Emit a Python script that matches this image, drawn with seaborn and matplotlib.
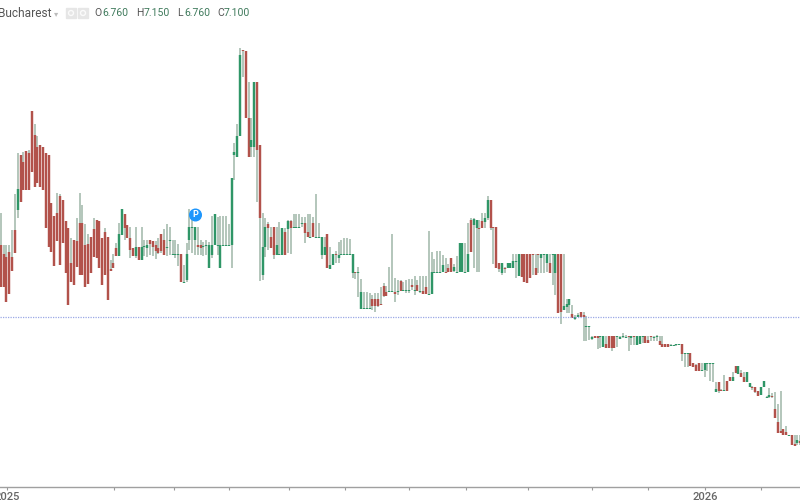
import numpy as np
import pandas as pd
import seaborn as sns
import matplotlib.pyplot as plt
from matplotlib.patches import Circle, Rectangle

# the price scale is not visible in the picture, so the levels are read as
# rows from the top of the chart (smaller = higher price)
highs = [213,245,245,245,230,194,153,155,152,151,
         150,111,124,136,145,147,153,155,203,216,
         193,194,200,221,228,238,240,218,193,205,
         224,234,237,218,220,221,238,228,237,260,
         254,243,223,209,214,225,227,248,227,247,
         227,240,240,240,241,241,238,234,229,224,
         227,240,240,244,254,265,243,209,216,227,
         227,240,242,240,242,216,214,217,216,216,
         216,224,178,143,124,48,50,51,82,118,
         82,82,145,213,218,222,227,227,227,222,
         228,228,220,220,214,214,214,217,217,214,
         214,217,194,223,237,237,234,247,254,251,
         242,240,238,238,239,254,272,267,279,292,
         292,293,295,293,293,287,283,286,267,234,
         278,280,280,282,280,279,279,276,280,276,
         276,276,231,252,259,251,251,255,258,264,
         258,264,256,243,243,243,223,218,218,220,
         220,213,213,196,200,227,227,263,263,267,
         263,263,254,254,254,254,254,254,254,254,
         254,254,254,254,254,254,254,254,254,254,
         254,299,299,305,315,313,312,312,316,326,
         336,336,336,336,336,336,336,336,336,336,
         336,333,335,336,336,336,336,336,336,336,
         336,336,336,335,336,336,344,344,344,345,
         344,344,344,353,353,353,363,364,363,363,
         363,363,363,363,382,382,389,375,381,377,
         372,366,366,370,372,372,383,386,387,391,
         387,381,396,388,393,392,404,391,429,426,
         435,435,435,435,435]
lows = [287,287,302,294,271,253,218,202,190,190,
        190,172,187,183,187,190,228,247,252,266,
        241,265,243,273,305,282,285,267,275,275,
        287,284,273,257,258,268,285,275,300,271,
        268,256,256,235,240,238,258,256,258,260,
        260,256,257,255,256,259,254,253,255,256,
        255,255,258,266,282,283,282,250,253,255,
        255,255,256,255,268,258,245,255,268,246,
        246,246,268,180,157,136,77,118,157,157,
        157,202,281,280,257,250,248,259,255,254,
        255,255,253,254,227,227,228,227,243,237,
        237,237,237,237,259,255,268,269,265,263,
        263,254,254,254,254,278,279,297,309,309,
        309,309,310,312,307,304,297,296,291,291,
        302,295,291,290,293,293,290,295,290,293,
        294,294,294,294,272,272,272,272,272,272,
        272,272,272,272,272,272,272,252,268,272,
        272,228,228,220,230,264,268,272,275,273,
        268,268,268,278,276,277,282,283,278,275,
        275,273,273,273,272,273,285,295,313,324,
        310,313,313,318,320,317,317,341,341,340,
        340,337,349,348,347,348,348,351,348,347,
        339,338,338,351,345,345,345,344,343,343,
        343,341,341,341,345,347,347,347,346,346,
        346,345,361,367,367,366,367,371,371,371,
        377,371,381,382,392,393,391,391,391,381,
        381,373,374,377,382,382,387,390,393,396,
        395,387,398,398,398,418,433,433,435,435,
        436,445,446,445,445]
body_tops = [245,254,257,252,257,230,189,155,162,151,
             153,111,135,147,145,147,153,155,203,216,
             213,196,200,221,228,263,240,241,223,223,
             245,244,237,229,220,221,238,232,237,269,
             263,248,234,209,214,225,238,248,247,247,
             247,246,245,240,241,245,248,234,240,247,
             240,254,254,254,254,282,254,227,227,227,
             245,245,246,245,245,245,214,245,245,245,
             245,245,178,152,136,55,50,51,118,140,
             82,82,145,247,227,224,237,227,245,254,
             228,232,221,221,227,227,227,223,223,232,
             237,223,237,237,237,247,234,265,254,254,
             255,254,254,254,254,254,272,272,292,308,
             308,308,299,299,299,304,286,292,291,291,
             292,291,281,290,290,290,285,290,285,291,
             291,287,294,272,272,272,272,265,272,268,
             258,267,272,243,243,272,254,220,219,220,
             228,221,218,200,200,227,227,263,263,268,
             263,263,261,261,254,254,254,254,254,254,
             268,254,254,254,254,263,254,254,254,254,
             306,304,299,314,317,315,312,315,326,326,
             337,336,336,336,336,344,336,336,336,336,
             337,336,337,336,336,336,336,336,336,336,
             340,336,337,336,341,344,344,344,345,345,
             344,344,344,353,353,353,363,365,363,370,
             363,363,363,363,389,382,390,390,381,377,
             377,366,366,373,377,372,383,387,387,391,
             387,381,397,395,396,409,422,431,429,432,
             435,435,444,440,441]
body_bots = [287,287,302,294,271,253,210,202,190,190,
             190,172,187,183,187,190,228,247,252,266,
             241,265,243,273,305,282,285,267,275,275,
             287,284,273,257,258,268,285,275,300,271,
             268,256,256,235,228,238,250,256,256,260,
             260,247,248,244,247,251,253,251,255,248,
             241,255,255,255,282,283,280,240,228,240,
             247,248,247,246,268,255,245,246,268,246,
             246,246,245,155,157,136,51,118,157,147,
             147,150,218,275,247,228,248,255,255,255,
             255,255,229,228,228,228,228,224,233,237,
             238,237,238,238,255,255,268,269,265,255,
             258,255,255,255,255,273,273,273,309,309,
             309,309,306,306,306,305,296,296,292,292,
             294,292,291,291,291,291,287,291,291,292,
             294,294,295,294,273,273,273,272,273,272,
             272,271,273,272,272,273,272,252,225,228,
             229,228,222,218,228,228,268,269,273,269,
             268,268,268,262,276,277,282,283,278,255,
             275,255,258,255,263,273,255,273,313,312,
             310,307,305,318,319,317,317,317,327,327,
             339,338,338,337,347,348,348,348,348,337,
             339,337,338,337,338,337,345,344,337,343,
             343,337,338,337,345,347,347,347,346,346,
             345,345,354,354,354,366,367,371,371,371,
             370,364,364,364,392,391,391,391,391,381,
             381,373,374,377,382,382,387,388,392,396,
             395,387,398,397,397,418,433,433,435,435,
             436,445,446,443,443]
colours = list("rrrrrrgrrr" "rrrrrrrrrr" "rrrrrrrrrr" "rrrrrrrrrr"
               "rrggrrrrgr" "gggrrrrrrg" "ggggrggggg" "rrgggggggg"
               "ggggggrrrg" "grrggrrrgg" "grgrggggrr" "grggggrggr"
               "ggggggrggg" "ggrrrrrrgg" "rgrgggrgrg" "rrggggggrr"
               "rggggggrgg" "rrggrrrrgr" "gggggrrrrr" "rrgggrggrr"
               "gggrggrrgg" "grrggrrrrg" "gggrgrgggr" "rrggrrrrgg"
               "ggrggrrrrg" "gggggrrgrr" "grgrrggrrr" "ggggrrrrrr"
               "grrgr")
tick_idx = [2.2, 40.2, 61.5, 81, 102.4, 122.3, 145, 165.3, 187.3, 210, 229.9, 250.2, 270]
tick_labels = ["2025", "", "", "", "", "", "", "", "", "", "", "2026", ""]
last_level = 317
quote = [("O", "6.760", 94, 102.5), ("H", "7.150", 136, 144), ("L", "6.760", 177, 184), ("C", "7.100", 217, 224)]

sns.set_theme(style="white")
plt.rcParams['font.family'] = ['Roboto', 'DejaVu Sans']

df = pd.DataFrame({"candle": np.arange(len(highs)), "high": highs, "low": lows,
                   "top": body_tops, "bot": body_bots, "dir": colours})
wicks = df.melt(id_vars=["candle", "dir"], value_vars=["high", "low"], value_name="level")
bodies = df.melt(id_vars=["candle", "dir"], value_vars=["top", "bot"], value_name="level")

fig = plt.figure(figsize=(8, 5), dpi=100)
ax = fig.add_axes([0, 13 / 500, 1, 487 / 500])

# wicks are the same pale grey-green whichever way the candle went
sns.lineplot(data=wicks, x="candle", y="level", units="candle", estimator=None,
             color="#a3baab", linewidth=1.15, solid_capstyle="butt", ax=ax)
sns.lineplot(data=bodies, x="candle", y="level", units="candle", estimator=None,
             hue="dir", palette={"r": "#b2524b", "g": "#2f9667"}, legend=False,
             linewidth=1.75, solid_capstyle="butt", ax=ax)

ax.axhline(last_level, color="#9aa8e6", lw=0.9, ls=(0, (1, 1)))

ax.set_xlim(-0.284, 283.9)
ax.set_ylim(487, 0)
ax.set_xlabel("")
ax.set_ylabel("")
ax.set_yticks([])
ax.set_xticks(tick_idx)
ax.set_xticklabels(tick_labels, fontsize=8, color="#666666", fontweight="medium")
ax.tick_params(axis="x", length=2.5, width=0.8, color="#999999", pad=1, bottom=True)
sns.despine(ax=ax, left=True, top=True, right=True)
ax.spines["bottom"].set_color("#a0a0a0")
ax.spines["bottom"].set_linewidth(1.0)
ax.patch.set_alpha(0)

# blue "P" badge
fig.add_artist(Circle((195.5, 500 - 215), 5.8, transform=None, color="#1e96fc", zorder=6))
fig.text(195.5 / 800, 1 - 215 / 500, "P", color="white", fontsize=6.5, fontweight="bold",
         ha="center", va="center", zorder=7)

# header row
head_y = 1 - 13.5 / 500
fig.text(-2 / 800, head_y, "Bucharest", fontsize=8.6, color="#555555", va="center")
fig.text(56.5 / 800, head_y, "\u25be", fontsize=6, color="#bbbbbb", va="center", ha="center",
         family=["DejaVu Sans"])
for left in [66, 78]:
    fig.add_artist(Rectangle((left, 500 - 18), 10, 10, transform=None, color="#e6e6e6"))
    fig.add_artist(Circle((left + 5, 500 - 13), 2.5, transform=None, fill=False, ec="#fafafa", lw=1))
for letter, value, letter_x, value_x in quote:
    fig.text(letter_x / 800, head_y, letter, fontsize=7.5, color="#555555", va="center")
    fig.text(value_x / 800, head_y, value, fontsize=7.5, color="#3f7a5c", va="center")

fig.savefig("out.png", dpi=100)
